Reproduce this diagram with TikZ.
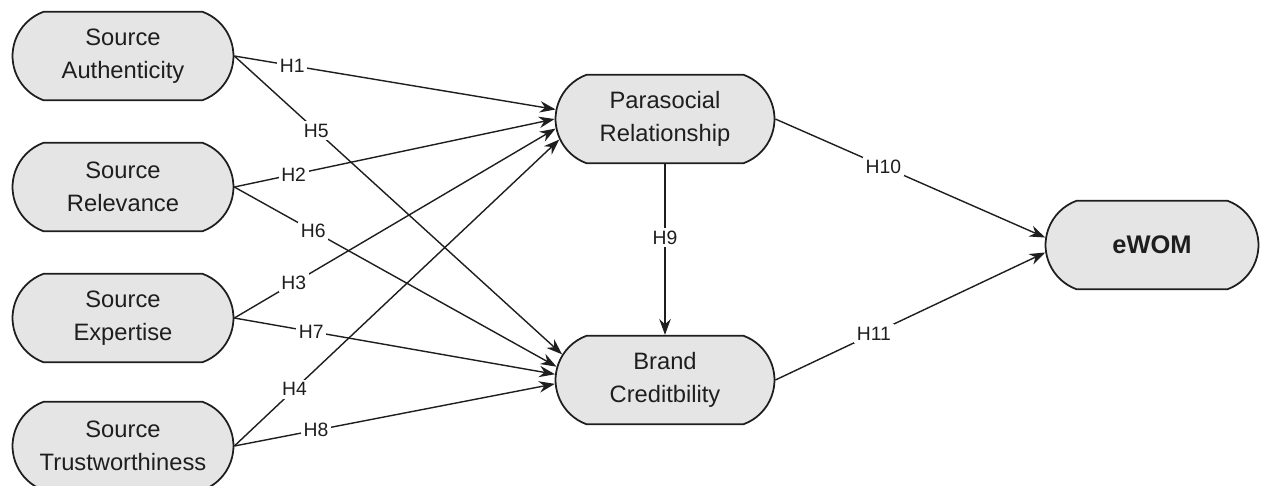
\documentclass[tikz,border=0pt]{standalone}
\usepackage{fontspec}
\setmainfont{Liberation Sans}
\usepackage{tikz}
\usetikzlibrary{positioning, arrows.meta, shapes.misc}
\definecolor{ink}{RGB}{30,30,30}
\definecolor{soft}{RGB}{229,229,229}
\tikzset{
  construct/.style={draw=ink,line width=1pt,fill=soft,rounded rectangle,
    rounded rectangle arc length=140,minimum width=4.56cm,minimum height=1.77cm,
    inner sep=2pt,align=center,font=\fontsize{13.5}{18.5}\selectfont,text=ink},
  target/.style={construct,minimum width=4.52cm},
  hyp/.style={fill=white,inner sep=1.5pt,font=\fontsize{11}{12}\selectfont,text=ink},
  arr/.style={-{Stealth[length=9pt,width=6.5pt]},line width=0.8pt,draw=ink},
}

\begin{document}
\begin{tikzpicture}[x=0.02cm,y=-0.02cm]
  \useasboundingbox (0,0) rectangle (1266,485);
  % exogenous constructs
  \node[construct] (auth)   at (123,56)  {Source\\Authenticity};
  \node[construct] (relev)  at (123,187) {Source\\Relevance};
  \node[construct] (expert) at (123,318) {Source\\Expertise};
  \node[construct] (trust)  at (123,446) {Source\\Trustworthiness};
  % mediators and outcome
  \node[target] (para)  at (665,119) {Parasocial\\Relationship};
  \node[target] (brand) at (665,380) {Brand\\Creditbility};
  \node[construct,minimum width=4.4cm,
    font=\fontsize{14.5}{18}\selectfont\bfseries] (ewom) at (1152,245) {eWOM};
  % H1--H4
  \draw[arr] (auth.east)   -- node[hyp,pos=.18] {H1} (para.175);
  \draw[arr] (relev.east)  -- node[hyp,pos=.185] {H2} (para.180);
  \draw[arr] (expert.east) -- node[hyp,pos=.185] {H3} (para.185.5);
  \draw[arr] (trust.east)  -- node[hyp,pos=.185] {H4} (para.191);
  % H5--H8
  \draw[arr] (auth.east)   -- node[hyp,pos=.25] {H5} (brand.166);
  \draw[arr] (relev.east)  -- node[hyp,pos=.245] {H6} (brand.173);
  \draw[arr] (expert.east) -- node[hyp,pos=.24] {H7} (brand.177.5);
  \draw[arr] (trust.east)  -- node[hyp,pos=.255] {H8} (brand.182.5);
  % H9--H11
  \draw[arr] (para.south)  -- node[hyp,pos=.43] {H9} (brand.north);
  \draw[arr] (para.east)   -- node[hyp,pos=.4] {H10} (ewom.176);
  \draw[arr] (brand.east)  -- node[hyp,pos=.365] {H11} (ewom.184);
\end{tikzpicture}
\end{document}
